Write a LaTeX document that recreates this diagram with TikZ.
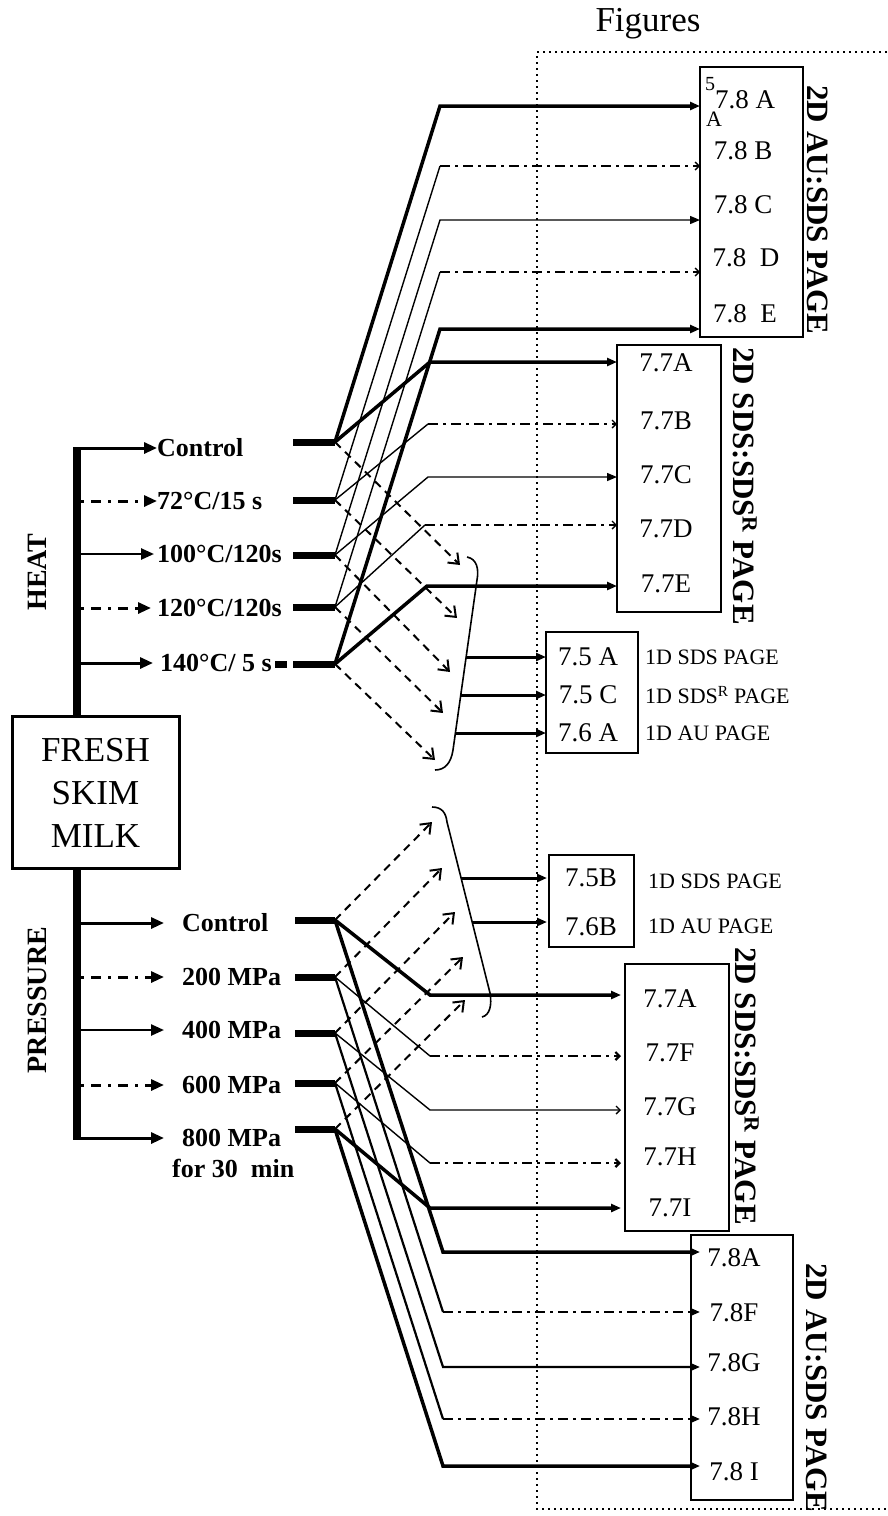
\documentclass[tikz,border=0pt]{standalone}
\usepackage{fontspec}
\setmainfont{Liberation Serif}
\usetikzlibrary{arrows.meta}
\begin{document}
\begin{tikzpicture}[x=1pt,y=-1pt,
 thickln/.style={line width=3.5pt},
 thinln/.style={line width=1.4pt},
 medln/.style={line width=2.2pt},
 dashdot/.style={dash pattern=on 10pt off 5pt on 3pt off 5pt},
 dsh/.style={dash pattern=on 8pt off 6pt, line width=2pt},
 sol/.style={-{Triangle[length=10pt,width=8pt]}},
 big/.style={-{Triangle[length=13pt,width=11pt]}},
 opn/.style={-{Straight Barb[length=4pt,width=8pt]}},
 vee/.style={-{Straight Barb[length=9pt,width=14pt]}},
 tail/.style={line width=7pt},
 lbl/.style={font=\fontsize{27}{30}\selectfont, inner sep=0pt},
 trt/.style={font=\bfseries\fontsize{26}{30}\selectfont, anchor=west, inner sep=0pt},
 side/.style={font=\fontsize{22}{24}\selectfont, anchor=west, inner sep=0pt},
 vlab/.style={font=\bfseries\fontsize{31}{36}\selectfont, rotate=-90, inner sep=0pt},
 figbox/.style={draw, line width=1.6pt, inner sep=0pt}
]
\useasboundingbox (0,0) rectangle (887,1516);

% title and dotted frame
\node[font=\fontsize{35}{40}\selectfont, inner sep=0pt] (fig) at (648,24) {Figures};
\draw[line width=2pt, dash pattern=on 2pt off 4pt] (887,52) -- (537,52) -- (537,1509) -- (887,1509);

% boxes
\node[figbox, minimum width=103pt, minimum height=270pt] (b78h) at (751.5,202) {};
\node[figbox, minimum width=104pt, minimum height=267pt] (b77h) at (669,478.5) {};
\node[figbox, minimum width=92pt, minimum height=121pt] (b1h) at (592,692.5) {};
\node[figbox, minimum width=85pt, minimum height=92pt] (b1p) at (591.5,901) {};
\node[figbox, minimum width=104pt, minimum height=267pt] (b77p) at (677,1097.5) {};
\node[figbox, minimum width=102pt, minimum height=265pt] (b78p) at (742,1367.5) {};
\node[draw, line width=3pt, minimum width=167pt, minimum height=152pt, inner sep=0pt] (milk) at (95.5,792) {};
\node[font=\fontsize{35}{43}\selectfont, align=center, inner sep=0pt] (milkt) at (95.5,793) {FRESH\\SKIM\\MILK};

% box labels
\node[lbl] (l78a) at (745,100) {7.8 A};
\node[font=\fontsize{20}{22}\selectfont, inner sep=0pt] (l5) at (710,84) {5};
\node[font=\fontsize{22}{24}\selectfont, inner sep=0pt] (lA) at (714,119) {A};
\node[lbl] (l78b) at (743,151) {7.8 B};
\node[lbl] (l78c) at (743,205) {7.8 C};
\node[lbl] (l78d) at (746,258) {7.8\ \ D};
\node[lbl] (l78e) at (745,314) {7.8\ \ E};

\node[lbl] (l77a) at (666,363) {7.7A};
\node[lbl] (l77b) at (666,421) {7.7B};
\node[lbl] (l77c) at (666,475) {7.7C};
\node[lbl] (l77d) at (666,529) {7.7D};
\node[lbl] (l77e) at (666,584) {7.7E};

\node[lbl] (l75a) at (588,657) {7.5 A};
\node[lbl] (l75c) at (588,695) {7.5 C};
\node[lbl] (l76a) at (588,733) {7.6 A};
\node[side] (s1) at (645,657) {1D SDS PAGE};
\node[side] (s2) at (645,695) {1D SDS\textsuperscript{R} PAGE};
\node[side] (s3) at (645,733) {1D AU PAGE};

\node[lbl] (l75b) at (591,878) {7.5B};
\node[lbl] (l76b) at (591,927) {7.6B};
\node[side] (s4) at (648,881) {1D SDS PAGE};
\node[side] (s5) at (648,926) {1D AU PAGE};

\node[lbl] (m77a) at (670,999) {7.7A};
\node[lbl] (m77f) at (670,1053) {7.7F};
\node[lbl] (m77g) at (670,1107) {7.7G};
\node[lbl] (m77h) at (670,1157) {7.7H};
\node[lbl] (m77i) at (670,1208) {7.7I};

\node[lbl] (m78a) at (734,1258) {7.8A};
\node[lbl] (m78f) at (734,1313) {7.8F};
\node[lbl] (m78g) at (734,1363) {7.8G};
\node[lbl] (m78h) at (734,1417) {7.8H};
\node[lbl] (m78i) at (734,1472) {7.8 I};

% vertical labels
\node[vlab] (v1) at (818,210) {2D AU:SDS PAGE};
\node[vlab] (v2) at (745,486) {2D SDS:SDS\textsuperscript{R} PAGE};
\node[vlab] (v3) at (747,1086) {2D SDS:SDS\textsuperscript{R} PAGE};
\node[vlab] (v4) at (817,1388) {2D AU:SDS PAGE};
\node[font=\bfseries\fontsize{28}{32}\selectfont, rotate=90, inner sep=0pt] (heat) at (37,572) {HEAT};
\node[font=\bfseries\fontsize{28}{32}\selectfont, rotate=90, inner sep=0pt] (press) at (37,1000) {PRESSURE};

% left trunk bars
\coordinate (hbt) at (77,447);
\coordinate (pbb) at (77,1140);
\draw[line width=8pt] (hbt) -- (milk.north -| hbt);
\draw[line width=8pt] (milk.south -| pbb) -- (pbb);

% heat treatment labels
\node[trt] (t1) at (157,448) {Control};
\node[trt] (t2) at (157,501) {72°C/15 s};
\node[trt] (t3) at (157,554) {100°C/120s};
\node[trt] (t4) at (157,608) {120°C/120s};
\node[trt] (t5) at (160,663) {140°C/ 5 s};
\coordinate (hs1) at (81,448);
\coordinate (hs2) at (81,501);
\coordinate (hs3) at (81,554);
\coordinate (hs4) at (81,608);
\coordinate (hs5) at (81,663);
\draw[line width=3pt, big] (hs1) -- (t1.west);
\draw[line width=3pt, dash pattern=on 3pt off 7pt on 10pt off 7pt, big] (hs2) -- (t2.west);
\draw[line width=2.5pt, big, shorten >=3pt] (hs3) -- (t3.west);
\draw[line width=3pt, dash pattern=on 3pt off 7pt on 10pt off 7pt, big, shorten >=6pt] (hs4) -- (t4.west);
\draw[line width=3pt, big, shorten >=7pt] (hs5) -- (t5.west);

% pressure treatment labels
\node[trt] (u1) at (182,923) {Control};
\node[trt] (u2) at (182,977) {200 MPa};
\node[trt] (u3) at (182,1030) {400 MPa};
\node[trt] (u4) at (182,1085) {600 MPa};
\node[trt] (u5) at (182,1138) {800 MPa};
\node[trt] (u6) at (172,1168) {for 30\ \ min};
\coordinate (ps1) at (81,923);
\coordinate (ps2) at (81,977);
\coordinate (ps3) at (81,1030);
\coordinate (ps4) at (81,1085);
\coordinate (ps5) at (81,1138);
\draw[line width=3pt, big, shorten >=18pt] (ps1) -- (u1.west);
\draw[line width=3pt, dash pattern=on 3pt off 7pt on 10pt off 7pt, big, shorten >=18pt] (ps2) -- (u2.west);
\draw[line width=2.5pt, big, shorten >=18pt] (ps3) -- (u3.west);
\draw[line width=3pt, dash pattern=on 3pt off 7pt on 10pt off 7pt, big, shorten >=18pt] (ps4) -- (u4.west);
\draw[line width=3pt, big, shorten >=18pt] (ps5) -- (u5.west);

% heat origins and tails
\coordinate (h1) at (335,442); \coordinate (ht1) at (293,442);
\coordinate (h2) at (335,500); \coordinate (ht2) at (293,500);
\coordinate (h3) at (335,555); \coordinate (ht3) at (293,555);
\coordinate (h4) at (335,607); \coordinate (ht4) at (293,607);
\coordinate (h5) at (335,664); \coordinate (ht5) at (293,664);
\coordinate (hd1) at (275,664); \coordinate (hd2) at (287,664);
\draw[tail] (ht1) -- (h1);
\draw[tail] (ht2) -- (h2);
\draw[tail] (ht3) -- (h3);
\draw[tail] (ht4) -- (h4);
\draw[tail] (ht5) -- (h5);
\draw[tail] (hd1) -- (hd2);

% heat -> 7.8 A-E
\coordinate (hb1) at (440,106); \coordinate (he1) at (700,106);
\coordinate (hb2) at (440,166); \coordinate (he2) at (700,166);
\coordinate (hb3) at (440,220); \coordinate (he3) at (700,220);
\coordinate (hb4) at (440,272); \coordinate (he4) at (700,272);
\coordinate (hb5) at (440,329); \coordinate (he5) at (700,329);
\draw[thickln, sol] (h1) -- (hb1) -- (he1);
\draw[thinln] (h2) -- (hb2);
\draw[thinln, dashdot, opn] (hb2) -- (he2);
\draw[thinln, sol] (h3) -- (hb3) -- (he3);
\draw[thinln] (h4) -- (hb4);
\draw[thinln, dashdot, opn] (hb4) -- (he4);
\draw[thickln, sol] (h5) -- (hb5) -- (he5);

% heat -> 7.7 A-E
\coordinate (hc1) at (430,362); \coordinate (hf1) at (617,362);
\coordinate (hc2) at (428,424); \coordinate (hf2) at (617,424);
\coordinate (hc3) at (428,477); \coordinate (hf3) at (617,477);
\coordinate (hc4) at (425,525); \coordinate (hf4) at (617,525);
\coordinate (hc5) at (427,586); \coordinate (hf5) at (617,586);
\draw[thickln, sol] (h1) -- (hc1) -- (hf1);
\draw[thinln] (h2) -- (hc2);
\draw[thinln, dashdot, opn] (hc2) -- (hf2);
\draw[thinln, sol] (h3) -- (hc3) -- (hf3);
\draw[thinln] (h4) -- (hc4);
\draw[thinln, dashdot, opn] (hc4) -- (hf4);
\draw[thickln, sol] (h5) -- (hc5) -- (hf5);

% heat dashed arrows to bracket
\coordinate (hg1) at (460,565);
\coordinate (hg2) at (457,618);
\coordinate (hg3) at (450,672);
\coordinate (hg4) at (443,713);
\coordinate (hg5) at (435,760);
\draw[dsh, vee] (h1) -- (hg1);
\draw[dsh, vee] (h2) -- (hg2);
\draw[dsh, vee] (h3) -- (hg3);
\draw[dsh, vee] (h4) -- (hg4);
\draw[dsh, vee] (h5) -- (hg5);

% heat bracket
\draw[line width=1.6pt] (467,557) .. controls (477,559) and (479,569) .. (477,580) -- (453,750) .. controls (451,763) and (445,770) .. (435,770);
\coordinate (hk1) at (466,657); \coordinate (hk2) at (461,695); \coordinate (hk3) at (455,733);
\coordinate (hl1) at (546,657); \coordinate (hl2) at (546,695); \coordinate (hl3) at (546,733);
\draw[line width=3pt, sol] (hk1) -- (hl1);
\draw[line width=3pt, sol] (hk2) -- (hl2);
\draw[line width=3pt, sol] (hk3) -- (hl3);

% pressure origins and tails
\coordinate (p1) at (335,920); \coordinate (pt1) at (295,920);
\coordinate (p2) at (335,977); \coordinate (pt2) at (295,977);
\coordinate (p3) at (335,1033); \coordinate (pt3) at (295,1033);
\coordinate (p4) at (335,1083); \coordinate (pt4) at (295,1083);
\coordinate (p5) at (335,1129); \coordinate (pt5) at (295,1129);
\draw[tail] (pt1) -- (p1);
\draw[tail] (pt2) -- (p2);
\draw[tail] (pt3) -- (p3);
\draw[tail] (pt4) -- (p4);
\draw[tail] (pt5) -- (p5);

% pressure -> 7.7 A,F,G,H,I
\coordinate (pc1) at (430,995); \coordinate (pf1) at (621,995);
\coordinate (pc2) at (430,1056); \coordinate (pf2) at (621,1056);
\coordinate (pc3) at (430,1110); \coordinate (pf3) at (621,1110);
\coordinate (pc4) at (430,1163); \coordinate (pf4) at (621,1163);
\coordinate (pc5) at (430,1208); \coordinate (pf5) at (621,1208);
\draw[thickln, sol] (p1) -- (pc1) -- (pf1);
\draw[thinln] (p2) -- (pc2);
\draw[medln, dashdot, opn] (pc2) -- (pf2);
\draw[thinln, opn] (p3) -- (pc3) -- (pf3);
\draw[thinln] (p4) -- (pc4);
\draw[medln, dashdot, opn] (pc4) -- (pf4);
\draw[thickln, sol] (p5) -- (pc5) -- (pf5);

% pressure -> 7.8 A,F,G,H,I
\coordinate (pb1) at (443,1252); \coordinate (pe1) at (700,1252);
\coordinate (pb2) at (443,1312); \coordinate (pe2) at (700,1312);
\coordinate (pb3) at (443,1367); \coordinate (pe3) at (700,1367);
\coordinate (pb4) at (443,1419); \coordinate (pe4) at (700,1419);
\coordinate (pb5) at (443,1466); \coordinate (pe5) at (700,1466);
\draw[thickln, sol] (p1) -- (pb1) -- (pe1);
\draw[medln] (p2) -- (pb2);
\draw[medln, dashdot, sol] (pb2) -- (pe2);
\draw[medln, sol] (p3) -- (pb3) -- (pe3);
\draw[medln] (p4) -- (pb4);
\draw[medln, dashdot, sol] (pb4) -- (pe4);
\draw[thickln, sol] (p5) -- (pb5) -- (pe5);

% pressure dashed arrows to bracket
\coordinate (pg1) at (432,822);
\coordinate (pg2) at (442,868);
\coordinate (pg3) at (455,912);
\coordinate (pg4) at (463,957);
\coordinate (pg5) at (465,1000);
\draw[dsh, vee] (p1) -- (pg1);
\draw[dsh, vee] (p2) -- (pg2);
\draw[dsh, vee] (p3) -- (pg3);
\draw[dsh, vee] (p4) -- (pg4);
\draw[dsh, vee] (p5) -- (pg5);

% pressure bracket
\draw[line width=1.6pt] (432,807) .. controls (442,807) and (446,813) .. (447,822) -- (490,993) .. controls (492,1005) and (490,1015) .. (482,1017);
\coordinate (pk1) at (461,878); \coordinate (pk2) at (472,922);
\coordinate (pl1) at (547,878); \coordinate (pl2) at (547,922);
\draw[line width=3pt, sol] (pk1) -- (pl1);
\draw[line width=3pt, sol] (pk2) -- (pl2);
\end{tikzpicture}
\end{document}
